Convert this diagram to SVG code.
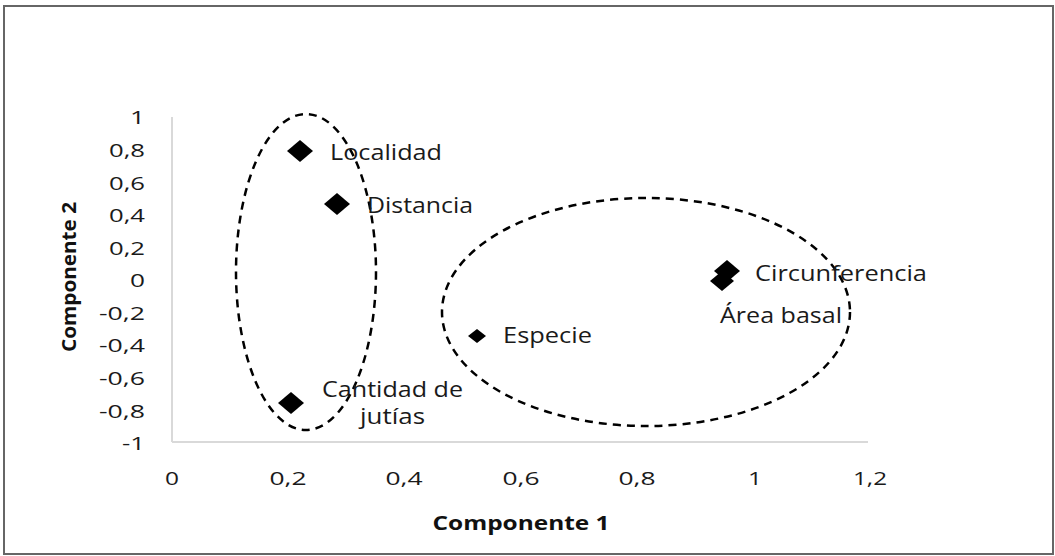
<svg xmlns="http://www.w3.org/2000/svg" width="1055" height="556" viewBox="0 0 1055 556">
<defs>
<style>
.t{font-family:"Open Sans",Lato,"Liberation Sans",sans-serif;font-size:21px;fill:#1a1a1a}
.tk{font-family:"Open Sans",Lato,"Liberation Sans",sans-serif;font-size:18px;fill:#1a1a1a}
.ttl{font-family:"Open Sans",Lato,"Liberation Sans",sans-serif;font-size:20px;font-weight:bold;fill:#111}
.ax{stroke:#d9d9d9;stroke-width:2;fill:none}
.el{stroke:#000;stroke-width:2.5;fill:none;stroke-dasharray:8 6}
.mk{fill:#000}
</style>
</defs>
<rect x="0" y="0" width="1055" height="556" fill="#fff"/>
<rect x="4" y="6" width="1049" height="548" fill="none" stroke="#666" stroke-width="2"/>
<g id="axes">
<line class="ax" x1="172" y1="117" x2="172" y2="442"/>
<line class="ax" x1="172" y1="442" x2="868" y2="442"/>
</g>
<g id="yticks" class="tk" text-anchor="end" lengthAdjust="spacingAndGlyphs">
<text x="145" y="124" textLength="15" lengthAdjust="spacingAndGlyphs">1</text>
<text x="145" y="157" textLength="36" lengthAdjust="spacingAndGlyphs">0,8</text>
<text x="145" y="190" textLength="36" lengthAdjust="spacingAndGlyphs">0,6</text>
<text x="145" y="222" textLength="36" lengthAdjust="spacingAndGlyphs">0,4</text>
<text x="145" y="255" textLength="36" lengthAdjust="spacingAndGlyphs">0,2</text>
<text x="145" y="287" textLength="15" lengthAdjust="spacingAndGlyphs">0</text>
<text x="145" y="320" textLength="46" lengthAdjust="spacingAndGlyphs">-0,2</text>
<text x="145" y="352" textLength="46" lengthAdjust="spacingAndGlyphs">-0,4</text>
<text x="145" y="385" textLength="46" lengthAdjust="spacingAndGlyphs">-0,6</text>
<text x="145" y="418" textLength="46" lengthAdjust="spacingAndGlyphs">-0,8</text>
<text x="145" y="450" textLength="23" lengthAdjust="spacingAndGlyphs">-1</text>
</g>
<g id="xticks" class="tk" text-anchor="middle">
<text x="172" y="485" textLength="14" lengthAdjust="spacingAndGlyphs">0</text>
<text x="288" y="485" textLength="37" lengthAdjust="spacingAndGlyphs">0,2</text>
<text x="404" y="485" textLength="37" lengthAdjust="spacingAndGlyphs">0,4</text>
<text x="521" y="485" textLength="37" lengthAdjust="spacingAndGlyphs">0,6</text>
<text x="637" y="485" textLength="37" lengthAdjust="spacingAndGlyphs">0,8</text>
<text x="755" y="485" textLength="14" lengthAdjust="spacingAndGlyphs">1</text>
<text x="870" y="485" textLength="34" lengthAdjust="spacingAndGlyphs">1,2</text>
</g>
<text id="xtitle" class="ttl" x="521" y="530" text-anchor="middle" textLength="177" lengthAdjust="spacingAndGlyphs">Componente 1</text>
<text id="ytitle" class="ttl" x="0" y="0" text-anchor="middle" textLength="150" lengthAdjust="spacingAndGlyphs" transform="translate(76,277) rotate(-90)">Componente 2</text>
<g id="connectors">
<ellipse id="group1" class="el" cx="306" cy="272" rx="70" ry="158"/>
<ellipse id="group2" class="el" cx="646" cy="312" rx="204" ry="114"/>
</g>
<g id="localidad">
<polygon class="mk" points="300,140 313,151 300,162 287,151"/>
<text class="t" x="330" y="160" textLength="112" lengthAdjust="spacingAndGlyphs">Localidad</text>
</g>
<g id="distancia">
<polygon class="mk" points="337,193 350,204 337,215 324,204"/>
<text class="t" x="367" y="213" textLength="106" lengthAdjust="spacingAndGlyphs">Distancia</text>
</g>
<g id="cantidad">
<polygon class="mk" points="291,392 304,403 291,414 278,403"/>
<text class="t" x="322" y="397" textLength="141" lengthAdjust="spacingAndGlyphs">Cantidad de</text>
<text class="t" x="360" y="424" textLength="65" lengthAdjust="spacingAndGlyphs">jutías</text>
</g>
<g id="especie">
<polygon class="mk" points="477,329 486,336 477,343 468,336"/>
<text class="t" x="503" y="343" textLength="89" lengthAdjust="spacingAndGlyphs">Especie</text>
</g>
<g id="circunferencia">
<polygon class="mk" points="727,260 740,271 727,282 714,271"/>
<text class="t" x="755" y="281" textLength="172" lengthAdjust="spacingAndGlyphs">Circunferencia</text>
</g>
<g id="areabasal">
<polygon class="mk" points="722,271 734,281 722,291 710,281"/>
<text class="t" x="720" y="323" textLength="122" lengthAdjust="spacingAndGlyphs">Área basal</text>
</g>
</svg>
